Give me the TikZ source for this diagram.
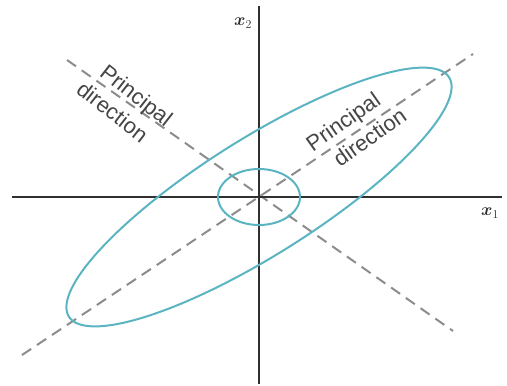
\documentclass[tikz,border=0pt]{standalone}
\usepackage{fontspec}
\usepackage{amsmath}
\usepackage{bm}
\newfontfamily\labelfont{Liberation Sans}
\definecolor{ellcol}{HTML}{5AB4C2}
\definecolor{axcol}{HTML}{303030}
\definecolor{dashcol}{HTML}{8C8C8C}
\definecolor{txtcol}{HTML}{454545}
\tikzset{
  axisline/.style={draw=axcol, line width=1.4pt},
  princline/.style={draw=dashcol, line width=2pt, dash pattern=on 11pt off 7pt},
  ellline/.style={draw=ellcol, line width=2pt},
  prtext/.style={font=\labelfont\fontsize{22}{28}\selectfont, text=txtcol, inner sep=0pt, align=center},
  axlabel/.style={font=\fontsize{18}{20}\selectfont, text=axcol, inner sep=0pt}
}
\begin{document}
\begin{tikzpicture}[x=1pt,y=-1pt]
\useasboundingbox (0,0) rectangle (507,386);
\coordinate (O) at (259,197);
\coordinate (xl) at (12,197);
\coordinate (xr) at (502,197);
\coordinate (yt) at (259,6);
\coordinate (yb) at (259,384);
\coordinate (ma) at (22,355);
\coordinate (mb) at (473,54);
\coordinate (na) at (67,60);
\coordinate (nb) at (453,331);
% principal direction lines
\draw[princline] (ma) -- (mb);
\draw[princline] (na) -- (nb);
% axes
\draw[axisline] (xl) -- (xr);
\draw[axisline] (yt) -- (yb);
% circle and ellipse
\draw[ellline] (O) ellipse [x radius=41, y radius=28];
\draw[ellline] plot[domain=0:360, samples=160, smooth cycle]
  ({259+186*cos(\x)-50*sin(\x)}, {197-124*cos(\x)-37*sin(\x)});
% labels
\node[axlabel] (x1) at (490,213) {$\bm{x}_1$};
\node[axlabel] (x2) at (243,23) {$\bm{x}_2$};
\node[prtext, rotate=-38] (p1) at (128,106) {Principal\\direction\hspace*{17pt}};
\node[prtext, rotate=35] (p2) at (351,133) {Principal\\\hspace*{26pt}direction};
\end{tikzpicture}
\end{document}
